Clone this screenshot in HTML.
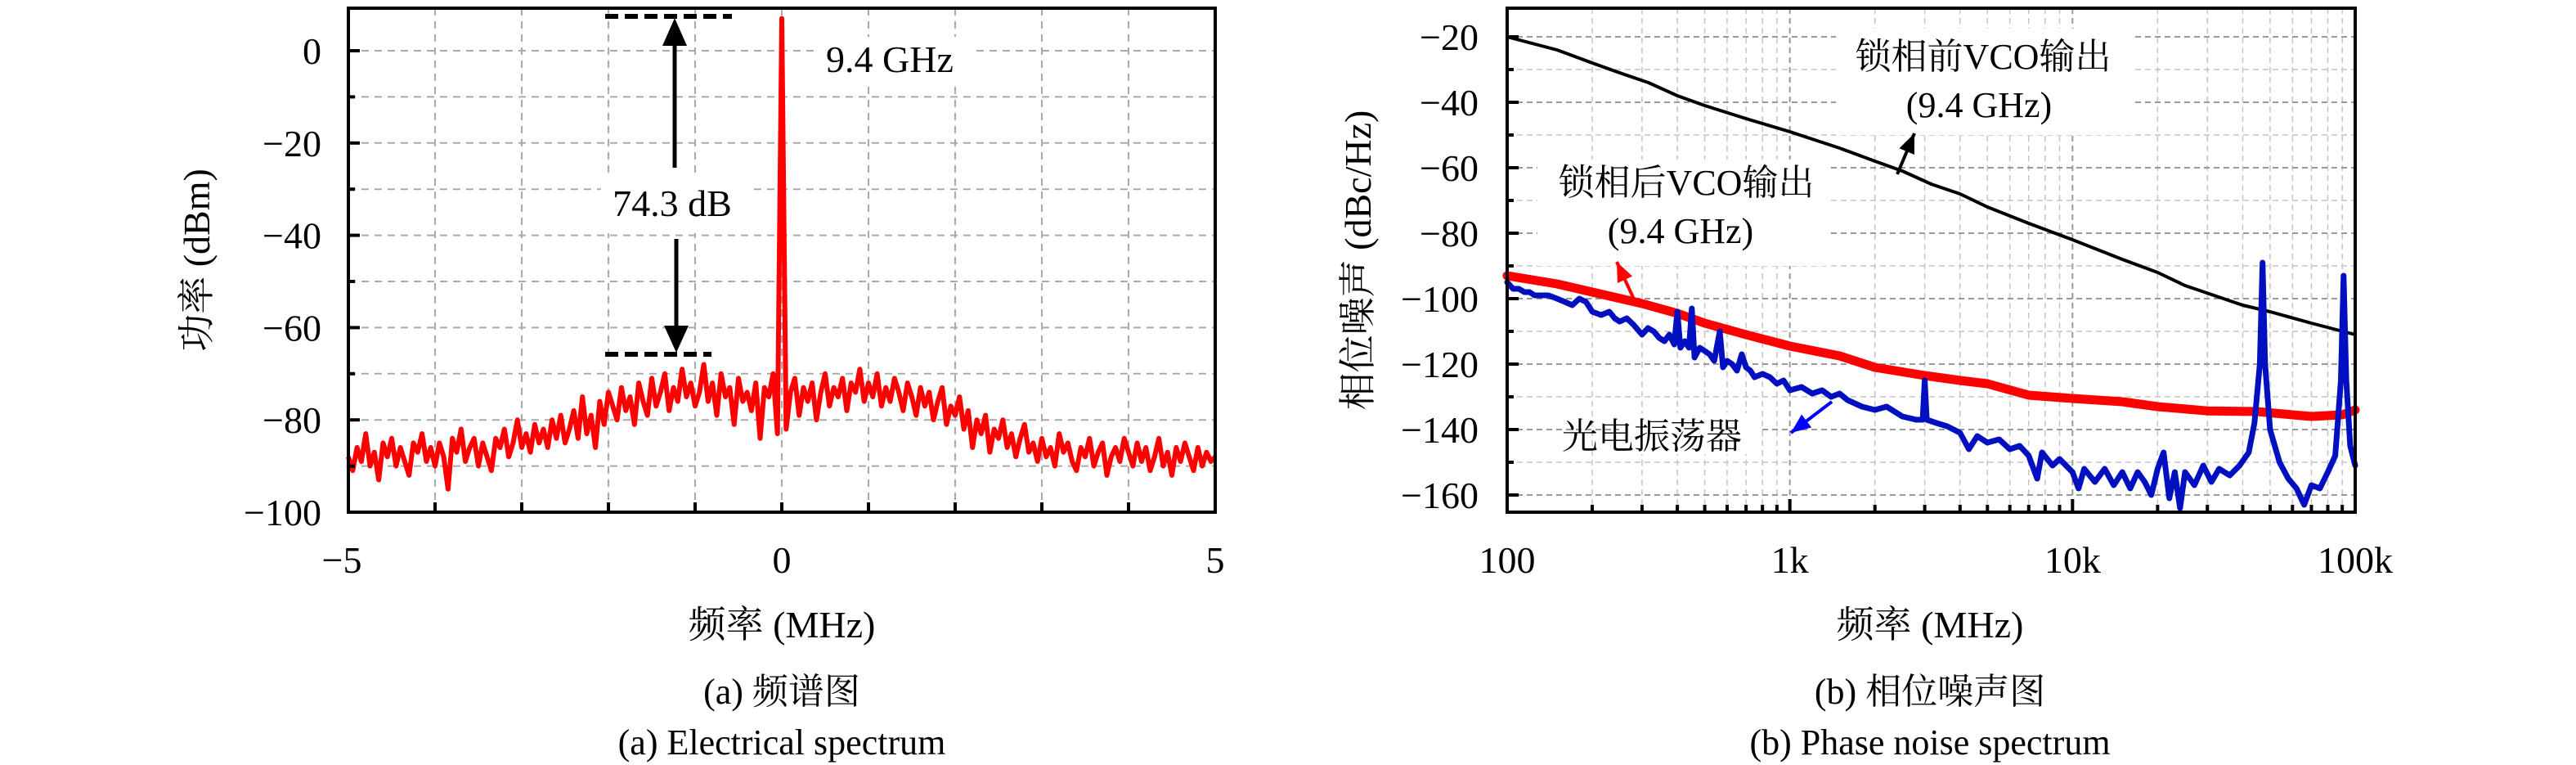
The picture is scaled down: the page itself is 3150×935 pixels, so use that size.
<!DOCTYPE html>
<html><head><meta charset="utf-8">
<style>
html,body{margin:0;padding:0;background:#fff;}
svg{display:block;}
text{font-family:"Liberation Serif","Noto Serif CJK SC",serif;fill:#000;}
</style></head>
<body>
<svg id="fig" width="3150" height="935" viewBox="0 0 3150 935" xmlns="http://www.w3.org/2000/svg" font-family="'Liberation Serif','Noto Serif CJK SC',serif">
<rect width="3150" height="935" fill="#fff"/>
<g id="left"></g>
<g id="right"></g>
</svg>
<script>
// ---------- Chart (a) data ----------
const specStartMHz = -5;
const specStepMHz = 0.05;
const specPower = [
-88,-91,-86,-89,-83,-90,-87,-93,-85,-88,-84,-90,-86,-89,-92,-85,-87,-83,-89,-86,-90,
-85,-88,-95,-84,-87,-82,-89,-86,-84,-90,-85,-88,-91,-84,-86,-82,-88,-85,-80,-86,
-83,-87,-81,-85,-82,-86,-80,-84,-79,-85,-82,-78,-84,-75,-83,-79,-86,-76,-81,-74,
-77,-80,-73,-78,-75,-81,-72,-76,-79,-71,-77,-74,-70,-78,-73,-76,-69,-75,-72,-77,
-74,-68,-76,-72,-79,-70,-75,-73,-81,-71,-76,-74,-78,-72,-84,-73,-75,-70,-83,
7,
-82,-74,-71,-79,-73,-76,-72,-80,-74,-70,-77,-73,-75,-71,-78,-72,-74,-69,-76,
-72,-75,-70,-77,-73,-76,-71,-74,-78,-72,-75,-79,-73,-77,-74,-80,-76,-73,-81,-77,
-79,-75,-82,-78,-86,-80,-83,-79,-87,-82,-84,-80,-86,-83,-88,-84,-81,-87,-85,-89,
-84,-88,-86,-90,-83,-87,-85,-89,-91,-86,-88,-84,-90,-87,-85,-92,-88,-86,-89,-84,
-87,-90,-85,-89,-86,-91,-88,-84,-90,-87,-92,-86,-89,-85,-88,-91,-86,-90,-87,-89,-88];
const leftYTicks = [0,-20,-40,-60,-80,-100];
const leftXTicks = [-5,0,5];

// ---------- Chart (b) data ----------
const oeoFreq = [100,105,110,115,120,125,130,140,150,160,170,180,190,200,215,230,240,250,265,280,300,315,330,345,360,375,390,400,410,425,440,450,460,480,500,520,540,565,580,600,625,650,676,700,725,750,800,850,900,950,1000,1100,1200,1300,1400,1500,1600,1800,2000,2200,2500,2800,2950,3000,3050,3300,3600,4000,4300,4600,5000,5500,6000,6500,7000,7500,7800,8500,9000,10000,10500,11000,12000,13000,14000,15000,16000,17000,18000,19000,20000,21000,22000,23000,24000,25000,27000,29000,31000,33000,36000,39000,42000,44000,46000,47000,48000,50000,54000,58000,62000,66000,70000,75000,80000,85000,89000,91000,93000,96000,100000];
const oeoNoise = [-95,-97,-97,-98,-98,-99,-99,-99,-100,-101,-102,-100,-101,-104,-105,-104,-106,-107,-106,-108,-111,-109,-110,-112,-113,-111,-114,-104,-115,-113,-115,-103,-118,-115,-116,-117,-119,-110,-121,-119,-120,-122,-117,-121,-122,-124,-123,-124,-126,-125,-128,-127,-129,-128,-130,-129,-131,-133,-134,-133,-136,-137,-137,-125,-137,-138,-139,-141,-146,-142,-144,-143,-146,-145,-148,-155,-147,-151,-149,-153,-158,-152,-156,-152,-157,-153,-158,-153,-156,-160,-152,-147,-161,-153,-164,-153,-157,-151,-156,-152,-154,-151,-147,-138,-120,-89,-120,-140,-150,-155,-158,-163,-157,-158,-153,-148,-125,-93,-125,-145,-151];
const lockedFreq = [100,150,200,300,400,500,700,1000,1500,2000,3000,4000,5000,7000,10000,15000,20000,30000,45000,60000,70000,90000,100000];
const lockedNoise = [-93,-95.5,-98,-101.5,-104.5,-107.5,-111,-114.5,-117.5,-121,-123.5,-125,-126,-129.5,-130.5,-131.5,-133,-134.3,-134.5,-135.5,-136,-135.5,-134];
const freeFreq = [100,150,200,250,316,400,500,700,1000,1500,2000,2500,3162,4000,5000,7000,10000,15000,20000,25000,31623,40000,50000,70000,100000];
const freeNoise = [-20,-24,-28,-31,-34,-38,-41,-45,-49,-54,-58,-61,-65,-68,-72,-77,-82,-88,-92,-96,-99,-102,-104,-107.5,-111];
const rightYTicks = [-20,-40,-60,-80,-100,-120,-140,-160];
const rightXTicks = [100,1000,10000,100000];
const rightXLabels = ["100","1k","10k","100k"];

const NS = "http://www.w3.org/2000/svg";
function mk(parent, tag, attrs){const e=document.createElementNS(NS,tag);for(const k in attrs)e.setAttribute(k,attrs[k]);parent.appendChild(e);return e;}

// ======== Left chart ========
const L = document.getElementById('left');
const lx0=426,lx1=1486,ly0=10,ly1=626;
const lxs = v => lx0 + (v+5)/10*(lx1-lx0);
const lys = v => 62 + (0 - v)/100*(626-62);
for(let v=-4;v<=4;v++){const g=mk(L,'line',{x1:lxs(v),x2:lxs(v),y1:ly0,y2:ly1,stroke:'#aaa','stroke-width':2,'stroke-dasharray':'9,7'});

}
for(let v=0;v>=-90;v-=10){const g=mk(L,'line',{x1:lx0,x2:lx1,y1:lys(v),y2:lys(v),stroke:'#aaa','stroke-width':2,'stroke-dasharray':'9,7'});

}
const bg1=mk(L,'rect',{x:1000,y:45,width:190,height:58,fill:'#fff'});


const bg2=mk(L,'rect',{x:735,y:215,width:180,height:70,fill:'#fff'});


let d='';
specPower.forEach((p,i)=>{const f=specStartMHz+i*specStepMHz;d+=(i?'L':'M')+lxs(f).toFixed(1)+','+lys(p).toFixed(1);});
const sp=mk(L,'path',{d:d,fill:'none',stroke:'#f00','stroke-width':6,'stroke-linejoin':'round'});


const fr=mk(L,'rect',{x:lx0,y:ly0,width:lx1-lx0,height:ly1-ly0,fill:'none',stroke:'#000','stroke-width':4});


for(let v=0;v>=-100;v-=10){const t=mk(L,'line',{x1:lx0,x2:lx0+(v%20===0?14:8),y1:lys(v),y2:lys(v),stroke:'#000','stroke-width':4});

}
for(let v=-4;v<=4;v++){const t=mk(L,'line',{x1:lxs(v),x2:lxs(v),y1:ly1,y2:ly1-12,stroke:'#000','stroke-width':4});

}
leftYTicks.forEach(v=>{const t=mk(L,'text',{x:393,y:lys(v)+16,'font-size':46,'text-anchor':'end'});t.textContent=(v<0?'\u2212':'')+Math.abs(v);

});
leftXTicks.forEach(v=>{const t=mk(L,'text',{x:lxs(v)+(v<0?-8:0),y:700,'font-size':46,'text-anchor':'middle'});t.textContent=(v<0?'\u2212':'')+Math.abs(v);

});
[[740,895,20],[740,870,433]].forEach(a=>{const l=mk(L,'line',{x1:a[0],x2:a[1],y1:a[2],y2:a[2],stroke:'#000','stroke-width':6,'stroke-dasharray':'16,8'});

});
const a1=mk(L,'line',{x1:825,x2:825,y1:55,y2:205,stroke:'#000','stroke-width':5});


const h1=mk(L,'polygon',{points:'825,22 810,56 840,56',fill:'#000'});


const a2=mk(L,'line',{x1:827,x2:827,y1:292,y2:400,stroke:'#000','stroke-width':5});


const h2=mk(L,'polygon',{points:'827,431 812,398 842,398',fill:'#000'});


const t1=mk(L,'text',{x:822,y:264,'font-size':46,'text-anchor':'middle'});t1.textContent='74.3 dB';


const t2=mk(L,'text',{x:1010,y:88,'font-size':46});t2.textContent='9.4 GHz';


const yt=mk(L,'text',{x:0,y:0,'font-size':46,'text-anchor':'middle',transform:'translate(256,318) rotate(-90)'});yt.textContent='功率 (dBm)';


const xt=mk(L,'text',{x:956,y:779,'font-size':46,'text-anchor':'middle'});xt.textContent='频率 (MHz)';


const c1=mk(L,'text',{x:956,y:860,'font-size':44,'text-anchor':'middle'});c1.textContent='(a) 频谱图';


const c2=mk(L,'text',{x:956,y:922,'font-size':44,'text-anchor':'middle'});c2.textContent='(a) Electrical spectrum';



// ======== Right chart ========
const R = document.getElementById('right');
const rx0=1843,rx1=2880,ry0=10,ry1=626;
const rxs = f => rx0 + (Math.log10(f)-2)/3*(rx1-rx0);
const rys = v => 45 + (-20 - v)/140*(605-45);
for(let dec=100;dec<100000;dec*=10){for(let m=1;m<10;m++){const f=dec*m;if(f<=100)continue;const g=mk(R,'line',{x1:rxs(f),x2:rxs(f),y1:ry0,y2:ry1,stroke:m===1?'#999':'#c4c4c4','stroke-width':m===1?2:1.5,'stroke-dasharray':'7,5'});

}}
for(let v=-20;v>=-160;v-=10){const g=mk(R,'line',{x1:rx0,x2:rx1,y1:rys(v),y2:rys(v),stroke:v%20===0?'#999':'#c4c4c4','stroke-width':v%20===0?2:1.5,'stroke-dasharray':'7,5'});

}
[[2245,35,365,130],[1880,195,355,130],[1980,505,170,50]].forEach(b=>{const r=mk(R,'rect',{x:b[0],y:b[1],width:b[2],height:b[3],fill:'#fff'});

});
function line(fs,vs,col,w,name){let p='';fs.forEach((f,i)=>{p+=(i?'L':'M')+rxs(f).toFixed(1)+','+rys(vs[i]).toFixed(1);});
const e=mk(R,'path',{d:p,fill:'none',stroke:col,'stroke-width':w,'stroke-linejoin':'round','stroke-linecap':'round'});

}
line(freeFreq,freeNoise,'#000',4,'free-running-vco-line');
line(lockedFreq,lockedNoise,'#f00',11,'locked-vco-line');
line(oeoFreq,oeoNoise,'#0010c0',7,'oeo-line');
const fr2=mk(R,'rect',{x:rx0,y:ry0,width:rx1-rx0,height:ry1-ry0,fill:'none',stroke:'#000','stroke-width':4});


for(let v=-20;v>=-160;v-=10){const t=mk(R,'line',{x1:rx0,x2:rx0+(v%20===0?14:8),y1:rys(v),y2:rys(v),stroke:'#000','stroke-width':4});

}
for(let dec=100;dec<100000;dec*=10){for(let m=1;m<10;m++){const f=dec*m;if(f<=100)continue;const t=mk(R,'line',{x1:rxs(f),x2:rxs(f),y1:ry1,y2:ry1-(m===1?16:9),stroke:'#000','stroke-width':4});

}}
rightYTicks.forEach(v=>{const t=mk(R,'text',{x:1808,y:rys(v)+16,'font-size':46,'text-anchor':'end'});t.textContent='\u2212'+Math.abs(v);

});
rightXTicks.forEach((f,i)=>{const t=mk(R,'text',{x:rxs(f),y:700,'font-size':46,'text-anchor':'middle'});t.textContent=rightXLabels[i];

});
function txt(x,y,s,name){const t=mk(R,'text',{x:x,y:y,'font-size':44,'text-anchor':'middle'});t.textContent=s;

}
txt(2425,84,'锁相前VCO输出','free-vco-label');
txt(2420,143,'(9.4 GHz)','free-vco-freq-label');
txt(2062,238,'锁相后VCO输出','locked-vco-label');
txt(2055,297,'(9.4 GHz)','locked-vco-freq-label');
txt(2020,548,'光电振荡器','oeo-label');
function arrow(x1,y1,x2,y2,col,name){const l=mk(R,'line',{x1:x1,y1:y1,x2:x2,y2:y2,stroke:col,'stroke-width':4});


const a=Math.atan2(y2-y1,x2-x1),L2=24,W=10;
const bx=x2-L2*Math.cos(a),by=y2-L2*Math.sin(a);
const h=mk(R,'polygon',{points:`${x2},${y2} ${bx+W*Math.sin(a)},${by-W*Math.cos(a)} ${bx-W*Math.sin(a)},${by+W*Math.cos(a)}`,fill:col});

}
arrow(2320,213,2341,163,'#000','free-vco-arrow');
arrow(2000,370,1977,320,'#f00','locked-vco-arrow');
arrow(2240,491,2190,529,'#0000ff','oeo-arrow');
const yt2=mk(R,'text',{x:0,y:0,'font-size':46,'text-anchor':'middle',transform:'translate(1676,318) rotate(-90)'});yt2.textContent='相位噪声 (dBc/Hz)';


const xt2=mk(R,'text',{x:2360,y:779,'font-size':46,'text-anchor':'middle'});xt2.textContent='频率 (MHz)';


const c3=mk(R,'text',{x:2360,y:860,'font-size':44,'text-anchor':'middle'});c3.textContent='(b) 相位噪声图';


const c4=mk(R,'text',{x:2360,y:922,'font-size':44,'text-anchor':'middle'});c4.textContent='(b) Phase noise spectrum';


</script>
</body></html>
